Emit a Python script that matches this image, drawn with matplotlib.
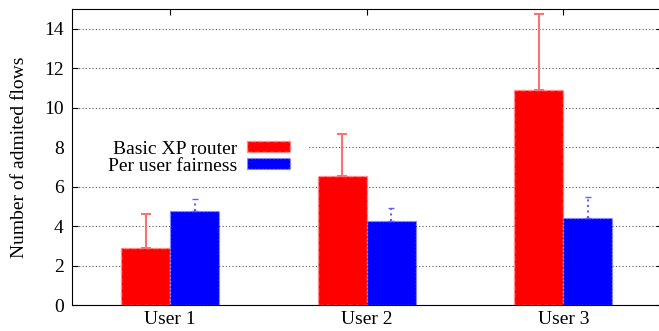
import matplotlib
matplotlib.use("Agg")
import matplotlib.pyplot as plt
import numpy as np
from matplotlib.patches import Rectangle

plt.rcParams["font.family"] = ["Liberation Serif", "DejaVu Serif"]

users = ["User 1", "User 2", "User 3"]
basic_xp = [2.88, 6.55, 10.88]
basic_xp_err = [1.72, 2.13, 3.87]
fairness = [4.74, 4.26, 4.43]
fairness_err = [0.64, 0.66, 1.04]
yticks = [0, 2, 4, 6, 8, 10, 12, 14]

FS = 14

fig = plt.figure(figsize=(6.59, 3.31), dpi=100)
ax = fig.add_axes([72 / 659, 26 / 331, 589.5 / 659, 296 / 331])

x = np.arange(1, len(users) + 1)
w = 0.25

ax.bar(x - w / 2, basic_xp, w, color="#ff0000", edgecolor="#ff9090",
       linestyle="--", linewidth=1, label="Basic XP router", zorder=2)
ax.bar(x + w / 2, fairness, w, color="#0000ff", edgecolor="#9090ff",
       linestyle=":", linewidth=1, label="Per user fairness", zorder=2)

zeros = [0] * len(users)
ax.errorbar(x - w / 2, basic_xp, yerr=[zeros, basic_xp_err], fmt="none",
            ecolor="#ff7070", elinewidth=1.5, capsize=3.5, capthick=1.5, zorder=3)
eb = ax.errorbar(x + w / 2, fairness, yerr=[zeros, fairness_err], fmt="none",
                 ecolor="#6060ff", elinewidth=1.5, capsize=2.5, capthick=1, zorder=3)
eb[2][0].set_linestyle(":")

ax.set_xlim(0.5, 3.5)
ax.set_ylim(0, 15)
ax.set_xticks(x)
ax.set_xticklabels(users, fontsize=FS)
ax.set_yticks(yticks)
ax.tick_params(axis="y", labelsize=FS, direction="in", length=4, right=True, pad=6)
ax.tick_params(axis="x", direction="in", length=4, top=True, pad=4)
ax.yaxis.grid(True, linestyle=(0, (1, 2)), color="#555555", linewidth=0.8, zorder=0)
ax.set_axisbelow(True)
ax.spines["right"].set_visible(False)
ax.set_ylabel("Number of admited flows", fontsize=FS)
ax.yaxis.set_label_coords(-0.074, 0.5)

# opaque key background, as in the original
ax.add_patch(Rectangle((0, 0.46), 0.4, 0.08, transform=ax.transAxes,
                       facecolor="white", edgecolor="none", zorder=1))

leg = ax.legend(loc="center right", bbox_to_anchor=(0.386, 0.498), frameon=False,
                markerfirst=False, fontsize=FS, handlelength=2.2, handleheight=0.46,
                handletextpad=0.5, labelspacing=0.0, borderpad=0)
for t in leg.get_texts():
    t.set_ha("right")

fig.savefig("out.png", dpi=100)
